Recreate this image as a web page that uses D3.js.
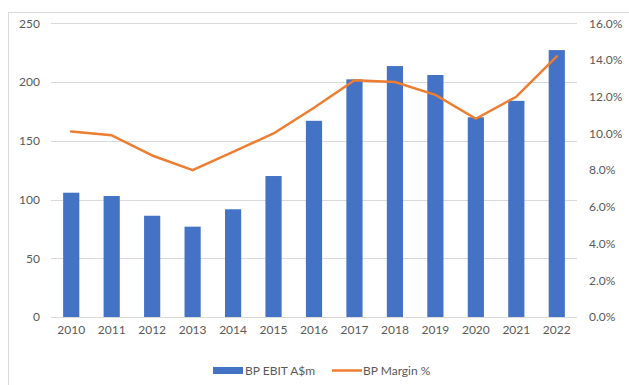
<!DOCTYPE html>
<html>
<head>
<meta charset="utf-8">
<script src="https://cdn.jsdelivr.net/npm/d3@7"></script>
<style>
  html, body { margin: 0; padding: 0; background: #fff; }
  svg { display: block; }
  text { font-family: Lato, "Open Sans", sans-serif; fill: #595959; }
</style>
</head>
<body>
<svg id="chart" width="629" height="385"></svg>
<script>
const years = ["2010","2011","2012","2013","2014","2015","2016","2017","2018","2019","2020","2021","2022"];
const ebit = [105.8, 103, 86.2, 76.9, 91.7, 120, 167, 202.3, 213.6, 206, 170, 184, 227.2];
const margin = [10.1, 9.9, 8.8, 8.0, 9.0, 10.0, 11.4, 12.9, 12.8, 12.1, 10.8, 12.0, 14.2];
const leftTicks = [0, 50, 100, 150, 200, 250];
const rightTicks = [0, 2, 4, 6, 8, 10, 12, 14, 16];
const seriesNames = ["BP EBIT A$m", "BP Margin %"];

const W = 629, H = 385;
const plot = { left: 51, right: 577, top: 23.3, bottom: 317 };
const svg = d3.select("#chart");

// frame
svg.append("rect")
  .attr("x", 8.5).attr("y", 12.5)
  .attr("width", 640).attr("height", 400)
  .attr("fill", "none").attr("stroke", "#d9d9d9").attr("stroke-width", 1);

const x = d3.scaleBand().domain(years).range([plot.left, plot.right]).paddingInner(0.6).paddingOuter(0.3);
const yL = d3.scaleLinear().domain([0, 250]).range([plot.bottom, plot.top]);
const yR = d3.scaleLinear().domain([0, 16]).range([plot.bottom, plot.top]);

// gridlines
svg.append("g").selectAll("line").data(leftTicks).join("line")
  .attr("x1", plot.left).attr("x2", plot.right)
  .attr("y1", d => Math.round(yL(d)) + 0.5).attr("y2", d => Math.round(yL(d)) + 0.5)
  .attr("stroke", "#d9d9d9").attr("stroke-width", 1);

// left axis labels
const axL = d3.axisLeft(yL).tickValues(leftTicks).tickSize(0).tickPadding(0);
const gL = svg.append("g").attr("transform", "translate(40,0)").call(axL);
gL.select(".domain").remove();
gL.selectAll("text").style("font-family", "Lato, sans-serif").style("font-size", "12px").attr("fill", "#595959");

// right axis labels (left aligned)
const axR = d3.axisRight(yR).tickValues(rightTicks).tickSize(0).tickPadding(0).tickFormat(d => d.toFixed(1) + "%");
const gR = svg.append("g").attr("transform", "translate(589,0)").call(axR);
gR.select(".domain").remove();
gR.selectAll("text").style("font-family", "Lato, sans-serif").style("font-size", "12px").attr("fill", "#595959");

// bars
svg.append("g").selectAll("rect").data(years).join("rect")
  .attr("x", d => x(d)).attr("width", x.bandwidth())
  .attr("y", (d, i) => yL(ebit[i])).attr("height", (d, i) => yL(0) - yL(ebit[i]))
  .attr("fill", "#4472C4");

// x axis labels
const axX = d3.axisBottom(x).tickSize(0).tickPadding(0);
const gX = svg.append("g").attr("transform", "translate(0,325)").call(axX);
gX.select(".domain").remove();
gX.selectAll("text").style("font-family", "Lato, sans-serif").style("font-size", "12px").attr("fill", "#595959");

// line
const line = d3.line()
  .x((d, i) => x(years[i]) + x.bandwidth() / 2)
  .y(d => yR(d));
svg.append("path").datum(margin)
  .attr("d", line)
  .attr("fill", "none").attr("stroke", "#ED7D31").attr("stroke-width", 2.5)
  .attr("stroke-linejoin", "round").attr("stroke-linecap", "round");

// legend
const lg = svg.append("g");
lg.append("rect").attr("x", 213).attr("y", 367).attr("width", 30).attr("height", 7).attr("fill", "#4472C4");
lg.append("text").attr("x", 245).attr("y", 374.5).style("font-size", "12px").text(seriesNames[0]);
lg.append("line").attr("x1", 332).attr("x2", 362).attr("y1", 370.5).attr("y2", 370.5)
  .attr("stroke", "#ED7D31").attr("stroke-width", 2.5);
lg.append("text").attr("x", 363).attr("y", 374.5).style("font-size", "12px").text(seriesNames[1]);
</script>
</body>
</html>
